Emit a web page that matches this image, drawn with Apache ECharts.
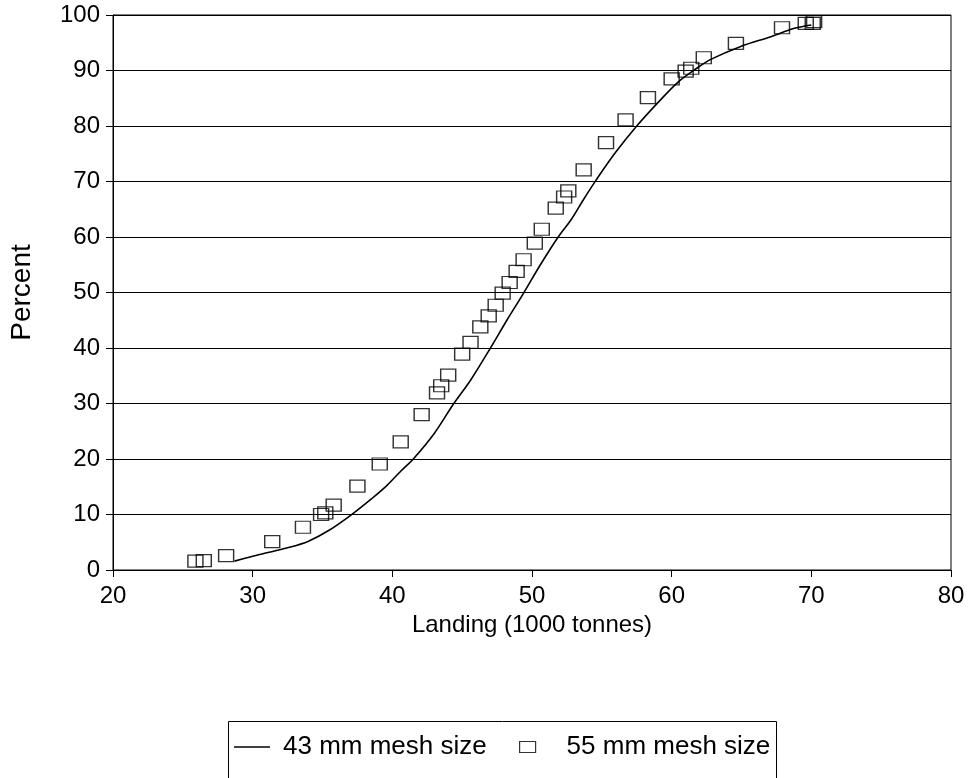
<!DOCTYPE html>
<html>
<head>
<meta charset="utf-8">
<script src="https://cdn.jsdelivr.net/npm/echarts@6/dist/echarts.min.js"></script>
<style>
html,body{margin:0;padding:0;background:#fff;}
#chart{width:971px;height:778px;}
</style>
</head>
<body>
<div id="chart"></div>
<script>
// 43 mm mesh size (fitted curve)
const lineX = [28.7,30.5,32.5,34.0,35.5,37.2,38.5,39.6,40.6,41.5,43.0,44.4,45.6,47.0,48.2,49.4,50.6,51.9,52.8,53.7,54.6,56.0,57.5,59.2,60.5,61.8,62.8,64.9,67.1,68.8,70.0];
const lineY = [1.6,2.8,4.0,5.2,7.2,10.2,12.8,15.2,17.8,20.0,24.6,30.0,34.2,39.9,45.0,49.9,55.0,60.1,63.1,66.8,70.3,75.3,80.0,84.7,88.0,90.4,92.0,94.3,96.1,97.6,98.2];
// 55 mm mesh size (observed points)
const pointX = [25.9,26.5,28.1,31.4,33.6,34.9,35.2,35.8,37.5,39.1,40.6,42.1,43.2,43.5,44.0,45.0,45.6,46.3,46.9,47.4,47.9,48.4,48.9,49.4,50.2,50.7,51.7,52.3,52.6,53.7,55.3,56.7,58.3,60.0,61.0,61.4,62.3,64.6,67.9,69.6,70.1,70.2];
const pointY = [1.6,1.7,2.6,5.1,7.7,10.0,10.3,11.7,15.1,19.1,23.1,28.0,31.9,33.2,35.1,38.9,41.0,43.8,45.8,47.7,49.9,51.8,53.8,55.9,58.9,61.4,65.2,67.2,68.3,72.1,77.0,81.1,85.1,88.5,89.9,90.4,92.3,94.9,97.7,98.5,98.5,98.8];
const seriesNames = ['43 mm mesh size', '55 mm mesh size'];
const xAxisName = 'Landing (1000 tonnes)';
const yAxisName = 'Percent';

const FONT = '"Liberation Sans", Arial, sans-serif';
const chart = echarts.init(document.getElementById('chart'), null, {renderer: 'canvas'});
chart.setOption({
  animation: false,
  backgroundColor: '#fff',
  textStyle: {fontFamily: FONT, color: '#000'},
  grid: {left: 113, right: 20, top: 15, bottom: 208, show: true, borderColor: '#000', borderWidth: 1, backgroundColor: 'transparent'},
  xAxis: {
    type: 'value', min: 20, max: 80, interval: 10,
    name: xAxisName, nameLocation: 'middle', nameGap: 43, nameMoveOverlap: false,
    nameTextStyle: {fontSize: 24, fontFamily: FONT, color: '#000'},
    axisLine: {show: true, lineStyle: {color: '#000', width: 1}},
    axisTick: {show: true, inside: false, length: 7, lineStyle: {color: '#000'}},
    axisLabel: {fontSize: 24, fontFamily: FONT, color: '#000', margin: 14},
    splitLine: {show: false}
  },
  yAxis: {
    type: 'value', min: 0, max: 100, interval: 10,
    name: yAxisName, nameLocation: 'middle', nameGap: 77, nameRotate: 90, nameMoveOverlap: false,
    nameTextStyle: {fontSize: 28, fontFamily: FONT, color: '#000'},
    axisLine: {show: true, lineStyle: {color: '#000', width: 1}},
    axisTick: {show: true, inside: false, length: 7, lineStyle: {color: '#000'}},
    axisLabel: {fontSize: 24, fontFamily: FONT, color: '#000', margin: 13},
    splitLine: {show: true, lineStyle: {color: '#000', width: 1}}
  },
  legend: [
    {
      data: [{name: seriesNames[0], icon: 'rect', itemStyle: {color: '#000'}}], left: 234, top: 734, orient: 'horizontal',
      itemWidth: 36, itemHeight: 1.6, padding: 0,
      textStyle: {fontSize: 26, fontFamily: FONT, color: '#000', padding: [0, 0, 0, 8]}
    },
    {
      data: [seriesNames[1]], left: 519, top: 734, orient: 'horizontal',
      itemWidth: 16, itemHeight: 11, padding: 0, icon: 'rect',
      itemStyle: {color: 'rgba(0,0,0,0)', borderColor: '#000', borderWidth: 1.2},
      textStyle: {fontSize: 26, fontFamily: FONT, color: '#000', padding: [0, 0, 0, 26]}
    }
  ],
  graphic: [
    {type: 'rect', silent: true, shape: {x: 228.5, y: 721.5, width: 548, height: 70}, style: {fill: 'none', stroke: '#000', lineWidth: 1}}
  ],
  series: [
    {
      name: seriesNames[0], type: 'line', smooth: 0.35, symbol: 'none', showSymbol: false,
      lineStyle: {color: '#000', width: 1.6},
      itemStyle: {color: '#000'},
      data: lineX.map((x, i) => [x, lineY[i]]), z: 3
    },
    {
      name: seriesNames[1], type: 'scatter', symbol: 'rect', symbolSize: [15, 12],
      itemStyle: {color: 'rgba(0,0,0,0)', borderColor: '#000', borderWidth: 1.3},
      data: pointX.map((x, i) => [x, pointY[i]]), z: 4
    }
  ]
});
</script>
</body>
</html>
